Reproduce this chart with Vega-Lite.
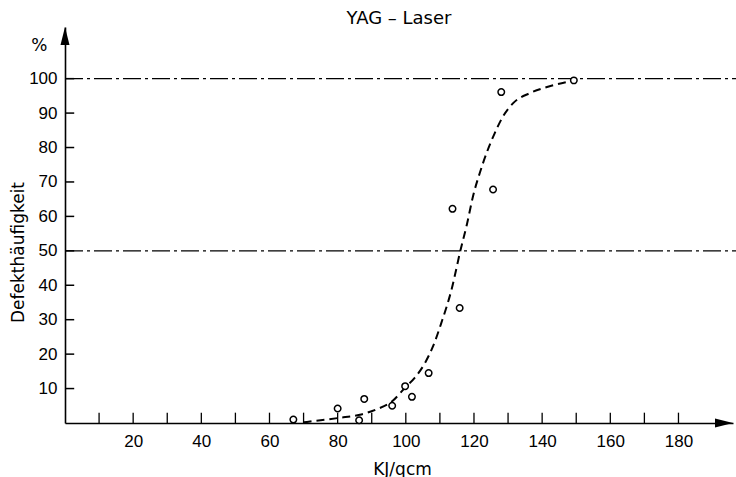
{
  "$schema": "https://vega.github.io/schema/vega-lite/v6.json",
  "width": 668,
  "height": 396,
  "autosize": {"type": "none"},
  "padding": {"left": 65, "top": 27, "right": 3, "bottom": 54},
  "background": "white",
  "title": {"text": "YAG – Laser", "font": "DejaVu Sans", "fontSize": 18, "fontWeight": "normal", "color": "black", "offset": -1},
  "config": {
    "view": {"stroke": null},
    "axis": {"grid": false, "ticks": false, "domainColor": "black", "domainWidth": 1.6, "labelColor": "black", "labelFont": "Liberation Sans", "labelFontSize": 17, "labelOverlap": false, "titleColor": "black", "titleFont": "DejaVu Sans", "titleFontSize": 17, "titleFontWeight": "normal"}
  },
  "datasets": {
    "points": [
      {"x": 67, "y": 1}, {"x": 80, "y": 4.2}, {"x": 86.3, "y": 0.8}, {"x": 87.8, "y": 7},
      {"x": 96, "y": 5}, {"x": 99.8, "y": 10.7}, {"x": 101.8, "y": 7.6}, {"x": 106.7, "y": 14.5},
      {"x": 113.7, "y": 62.2}, {"x": 115.8, "y": 33.4}, {"x": 125.6, "y": 67.8}, {"x": 128, "y": 96.1},
      {"x": 149.3, "y": 99.5}
    ],
    "curve": [
      {"x": 70, "y": 0.2}, {"x": 75, "y": 0.8}, {"x": 80.5, "y": 1.5}, {"x": 86.5, "y": 2.4},
      {"x": 91.5, "y": 4}, {"x": 96, "y": 6.3}, {"x": 100, "y": 10.5}, {"x": 102.6, "y": 13.1},
      {"x": 105.6, "y": 17.4}, {"x": 108, "y": 22.3}, {"x": 110.4, "y": 29}, {"x": 113.4, "y": 38.7},
      {"x": 116, "y": 50}, {"x": 118, "y": 58}, {"x": 119.7, "y": 65.8}, {"x": 121.7, "y": 72.6},
      {"x": 123.7, "y": 78.4}, {"x": 126.1, "y": 84.2}, {"x": 128.5, "y": 89}, {"x": 131.5, "y": 92.9},
      {"x": 136.4, "y": 95.8}, {"x": 142.2, "y": 97.8}, {"x": 149, "y": 99.4}
    ],
    "refs": [{"y": 50, "x0": 0, "x1": 197}, {"y": 100, "x0": 0, "x1": 197}],
    "xticks": [{"x": 10}, {"x": 20}, {"x": 30}, {"x": 40}, {"x": 50}, {"x": 60}, {"x": 70}, {"x": 80}, {"x": 90}, {"x": 100}, {"x": 110}, {"x": 120}, {"x": 130}, {"x": 140}, {"x": 150}, {"x": 160}, {"x": 170}, {"x": 180}],
    "yticks": [{"y": 10}, {"y": 20}, {"y": 30}, {"y": 40}, {"y": 50}, {"y": 60}, {"y": 70}, {"y": 80}, {"y": 90}, {"y": 100}]
  },
  "layer": [
    {
      "data": {"name": "refs"},
      "mark": {"type": "rule", "color": "black", "strokeWidth": 1.2, "strokeDash": [18, 4, 3, 4]},
      "encoding": {
        "x": {"field": "x0", "type": "quantitative", "scale": {"domain": [0, 196], "nice": false, "zero": false},
          "axis": {"values": [20, 40, 60, 80, 100, 120, 140, 160, 180], "labelPadding": 10,
            "title": "KJ/qcm", "titleX": 337, "titleY": 51, "titleBaseline": "alphabetic", "titleAlign": "center"}},
        "x2": {"field": "x1"},
        "y": {"field": "y", "type": "quantitative", "scale": {"domain": [0, 115], "nice": false, "zero": false},
          "axis": {"values": [10, 20, 30, 40, 50, 60, 70, 80, 90, 100], "labelPadding": 8,
            "title": "Defekthäufigkeit", "titleAngle": -90, "titleX": -42, "titleY": 225, "titleBaseline": "alphabetic", "titleAlign": "center"}}
      }
    },
    {
      "data": {"name": "xticks"},
      "mark": {"type": "rule", "color": "black", "strokeWidth": 1.3},
      "encoding": {
        "x": {"field": "x", "type": "quantitative"},
        "y": {"datum": 0, "type": "quantitative"},
        "y2": {"datum": 3}
      }
    },
    {
      "data": {"name": "yticks"},
      "mark": {"type": "rule", "color": "black", "strokeWidth": 1.5},
      "encoding": {
        "y": {"field": "y", "type": "quantitative"},
        "x": {"datum": 0, "type": "quantitative"},
        "x2": {"datum": 2.7}
      }
    },
    {
      "data": {"name": "curve"},
      "mark": {"type": "line", "color": "black", "strokeWidth": 2, "strokeDash": [8, 5], "interpolate": "monotone"},
      "encoding": {
        "x": {"field": "x", "type": "quantitative"},
        "y": {"field": "y", "type": "quantitative"}
      }
    },
    {
      "data": {"name": "points"},
      "mark": {"type": "point", "shape": "circle", "size": 42, "fill": "white", "stroke": "black", "strokeWidth": 1.5, "opacity": 1, "fillOpacity": 1},
      "encoding": {
        "x": {"field": "x", "type": "quantitative"},
        "y": {"field": "y", "type": "quantitative"}
      }
    },
    {
      "data": {"values": [{}]},
      "mark": {"type": "point", "shape": "M-1.8,-0.45L0,0L-1.8,0.45Z", "size": 400, "filled": true, "color": "black", "opacity": 1},
      "encoding": {"x": {"datum": 196, "type": "quantitative"}, "y": {"datum": 0, "type": "quantitative"}}
    },
    {
      "data": {"values": [{}]},
      "mark": {"type": "point", "shape": "M-0.45,1.8L0,0L0.45,1.8Z", "size": 400, "filled": true, "color": "black", "opacity": 1},
      "encoding": {"x": {"datum": 0, "type": "quantitative"}, "y": {"datum": 115, "type": "quantitative"}}
    },
    {
      "data": {"values": [{}]},
      "mark": {"type": "text", "text": "%", "font": "DejaVu Sans", "fontSize": 17, "color": "black", "align": "center", "baseline": "middle"},
      "encoding": {"x": {"datum": -7.5, "type": "quantitative"}, "y": {"datum": 109.5, "type": "quantitative"}}
    }
  ]
}
